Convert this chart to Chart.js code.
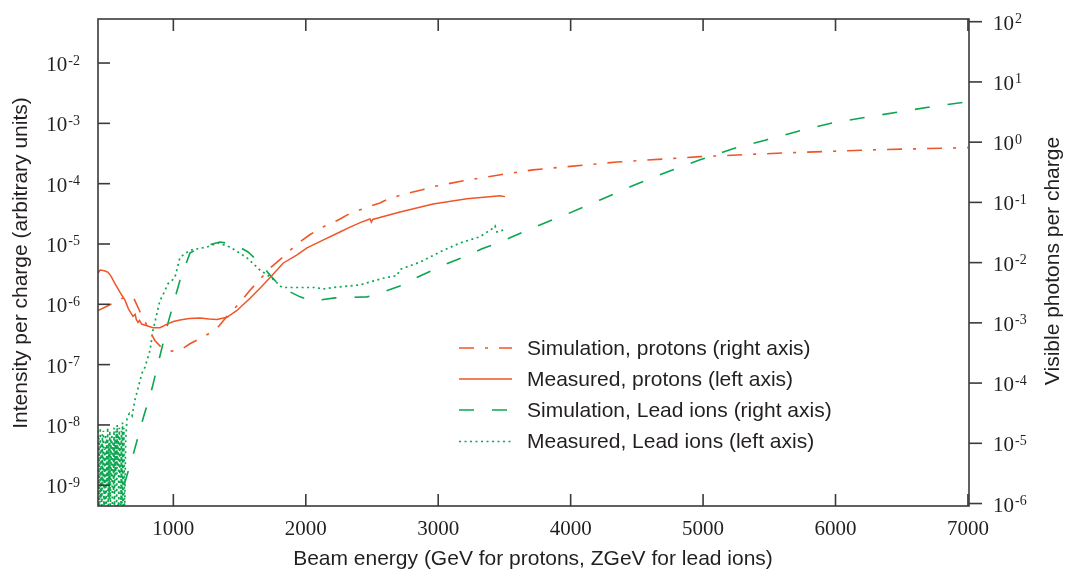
<!DOCTYPE html>
<html lang="en">
<head>
    <meta charset="UTF-8">
    <title>Visible photons vs beam energy</title>
    <script src="https://cdn.jsdelivr.net/npm/chart.js"></script>
    <style>
        html, body { margin: 0; padding: 0; background: #fff; }
        #wrap { position: relative; width: 1066px; height: 572px; }
    </style>
</head>
<body>
    <div id="wrap">
        <canvas id="beamChart"></canvas>
    </div>

    <script>
        // Tick values
        const xTicks = [1000, 2000, 3000, 4000, 5000, 6000, 7000];
        const leftTicks = [1e-9, 1e-8, 1e-7, 1e-6, 1e-5, 1e-4, 1e-3, 1e-2];
        const rightTicks = [1e-6, 1e-5, 1e-4, 1e-3, 1e-2, 1e-1, 1e0, 1e1, 1e2];

        const seriesLabels = [
            'Simulation, protons (right axis)',
            'Measured, protons (left axis)',
            'Simulation, Lead ions (right axis)',
            'Measured, Lead ions (left axis)'
        ];

        // Simulation, protons (right axis)
        const simProtonsE = [431, 560, 635, 700, 750, 800, 860, 915, 990, 1050, 1125, 1225, 1330, 1430, 1490, 1580, 1630, 1730, 1820, 1940, 2030, 2130, 2245, 2335, 2450, 2560, 2635, 2765, 2880, 2960, 3075, 3190, 3470, 3715, 4350, 4980, 5600, 6240, 7000];
        const simProtonsV = [1.6e-3, 2.2e-3, 2.7e-3, 2.6e-3, 1.5e-3, 9.1e-4, 5.1e-4, 3.8e-4, 3.4e-4, 3.5e-4, 4.5e-4, 5.8e-4, 8.1e-4, 1.5e-3, 2.0e-3, 3.5e-3, 4.6e-3, 8.1e-3, 1.2e-2, 2.1e-2, 2.9e-2, 3.9e-2, 5.1e-2, 6.6e-2, 8.1e-2, 9.8e-2, 0.117, 0.141, 0.162, 0.182, 0.204, 0.229, 0.288, 0.347, 0.468, 0.575, 0.661, 0.741, 0.813];

        // Measured, protons (left axis)
        const measProtonsE = [432, 447, 480, 507, 530, 559, 600, 635, 660, 695, 712, 720, 733, 745, 760, 801, 846, 899, 952, 1000, 1050, 1120, 1201, 1270, 1329, 1405, 1480, 1579, 1654, 1745, 1828, 1934, 2009, 2130, 2258, 2334, 2420, 2485, 2495, 2505, 2600, 2712, 2961, 3217, 3467, 3504];
        const measProtonsV = [3.3e-6, 3.7e-6, 3.6e-6, 3.4e-6, 2.9e-6, 2.2e-6, 1.55e-6, 1.17e-6, 8.5e-7, 6.3e-7, 6.8e-7, 5.6e-7, 5.0e-7, 5.4e-7, 4.7e-7, 4.4e-7, 4.1e-7, 4.1e-7, 4.7e-7, 5.2e-7, 5.5e-7, 5.8e-7, 5.9e-7, 5.7e-7, 5.6e-7, 6.1e-7, 7.9e-7, 1.26e-6, 1.85e-6, 3.0e-6, 4.8e-6, 6.6e-6, 8.6e-6, 1.16e-5, 1.58e-5, 1.9e-5, 2.3e-5, 2.6e-5, 2.3e-5, 2.55e-5, 2.9e-5, 3.4e-5, 4.6e-5, 5.6e-5, 6.3e-5, 6.1e-5];

        // Simulation, Lead ions (right axis)
        const simLeadE = [555, 623, 699, 774, 841, 900, 961, 1050, 1126, 1239, 1352, 1465, 1564, 1654, 1730, 1821, 1957, 2055, 2221, 2462, 2575, 2711, 2825, 2961, 3074, 3217, 3331, 3467, 3716, 3973, 4222, 4472, 4728, 4977, 5226, 5483, 5732, 5981, 6238, 6487, 6736, 7000];
        const simLeadV = [6.0e-7, 1.86e-6, 6.8e-6, 2.7e-5, 8.5e-5, 2.9e-4, 1.02e-3, 5.1e-3, 1.45e-2, 1.9e-2, 2.2e-2, 2.0e-2, 1.5e-2, 9.8e-3, 6.2e-3, 3.8e-3, 2.7e-3, 2.3e-3, 2.6e-3, 2.7e-3, 3.2e-3, 4.1e-3, 5.5e-3, 7.5e-3, 9.8e-3, 1.3e-2, 1.7e-2, 2.2e-2, 3.8e-2, 6.4e-2, 0.11, 0.19, 0.32, 0.51, 0.78, 1.1, 1.55, 2.1, 2.6, 3.2, 3.9, 4.7];

        // Measured, Lead ions (left axis) - noisy below ~650
        const measLeadE = [432, 436, 440, 444, 448, 452, 456, 460, 464, 468, 472, 476, 480, 484, 488, 492, 496, 500, 504, 508, 512, 516, 520, 524, 528, 532, 536, 540, 544, 548, 552, 556, 560, 564, 568, 572, 576, 580, 584, 588, 592, 596, 600, 604, 608, 612, 616, 620, 626, 632, 640, 650, 668, 688, 710, 763, 786, 824, 846, 899, 914, 960, 975, 1012, 1050, 1126, 1254, 1337, 1428, 1556, 1654, 1745, 1821, 1979, 2085, 2123, 2206, 2410, 2583, 2689, 2712, 2863, 3014, 3165, 3316, 3414, 3429, 3444, 3490];
        const measLeadV = [8e-9, 4e-10, 6e-9, 3e-10, 9e-9, 6e-10, 5e-9, 3e-10, 7e-9, 1e-9, 8e-9, 3e-10, 4e-9, 5e-10, 7e-9, 2e-10, 6e-9, 1e-9, 9e-9, 3e-10, 5e-9, 6e-10, 8e-9, 2e-10, 6e-9, 1.2e-9, 7e-9, 3e-10, 5e-9, 8e-10, 9e-9, 3e-10, 6e-9, 1.5e-9, 8e-9, 4e-10, 1e-8, 2e-9, 7e-9, 4e-10, 9e-9, 1.5e-9, 6e-9, 3e-10, 8e-9, 5e-10, 1.1e-8, 2e-10, 9e-9, 3e-10, 5.5e-9, 1.3e-8, 1.55e-8, 1.4e-8, 2.6e-8, 7.2e-8, 9.1e-8, 1.74e-7, 3.7e-7, 1.17e-6, 1.32e-6, 2.2e-6, 2.3e-6, 2.8e-6, 6.0e-6, 7.9e-6, 8.9e-6, 1.04e-5, 8.9e-6, 5.9e-6, 3.7e-6, 2.7e-6, 1.9e-6, 1.9e-6, 1.9e-6, 1.78e-6, 1.9e-6, 2.1e-6, 2.7e-6, 3.0e-6, 3.8e-6, 5.0e-6, 7.4e-6, 1.04e-5, 1.32e-5, 1.83e-5, 1.99e-5, 1.58e-5, 1.7e-5];

        const orange = '#ef5527';
        const green = '#0ba650';
        const axisColor = '#3a3a3a';
        const textColor = '#231f20';
        const serif = '"Liberation Serif", "Times New Roman", serif';
        const sans = '"Liberation Sans", Arial, sans-serif';

        const pts = (xs, ys) => xs.map((x, i) => ({ x: x, y: ys[i] }));

        const datasets = [
            { label: seriesLabels[0], data: pts(simProtonsE, simProtonsV), yAxisID: 'yR',
              borderColor: orange, borderWidth: 1.6, borderDash: [15, 11, 3, 11] },
            { label: seriesLabels[1], data: pts(measProtonsE, measProtonsV), yAxisID: 'yL',
              borderColor: orange, borderWidth: 1.5, borderDash: [] },
            { label: seriesLabels[2], data: pts(simLeadE, simLeadV), yAxisID: 'yR',
              borderColor: green, borderWidth: 1.6, borderDash: [15, 18] },
            { label: seriesLabels[3], data: pts(measLeadE, measLeadV), yAxisID: 'yL',
              borderColor: green, borderWidth: 1.7, borderDash: [2, 3.5] }
        ];
        datasets.forEach(d => { d.pointRadius = 0; d.tension = 0; d.fill = false; });

        function line(ctx, x1, y1, x2, y2) {
            ctx.beginPath(); ctx.moveTo(x1, y1); ctx.lineTo(x2, y2); ctx.stroke();
        }

        // draws "10" with a raised exponent; align = 'right' or 'left'
        function powerLabel(ctx, value, x, y, align) {
            const exp = String(Math.round(Math.log10(value)));
            ctx.font = '21px ' + serif;
            const bw = ctx.measureText('10').width;
            ctx.font = '14px ' + serif;
            const ew = ctx.measureText(exp).width;
            const x0 = align === 'right' ? x - bw - ew - 1 : x;
            ctx.textAlign = 'left';
            ctx.textBaseline = 'alphabetic';
            ctx.font = '21px ' + serif;
            ctx.fillText('10', x0, y + 8);
            ctx.font = '14px ' + serif;
            ctx.fillText(exp, x0 + bw + 1, y + 1.5);
        }

        const framePlugin = {
            id: 'frame',
            afterDraw(chart) {
                const { ctx, chartArea: a, scales } = chart;
                ctx.save();
                ctx.strokeStyle = axisColor;
                ctx.fillStyle = textColor;
                ctx.lineWidth = 1.6;
                ctx.setLineDash([]);
                ctx.strokeRect(a.left, a.top, a.right - a.left, a.bottom - a.top);

                // x ticks (inward, bottom and top)
                xTicks.forEach(v => {
                    const px = scales.x.getPixelForValue(v);
                    line(ctx, px, a.bottom, px, a.bottom - 12);
                    line(ctx, px, a.top, px, a.top + 12);
                    ctx.font = '21px ' + serif;
                    ctx.textAlign = 'center';
                    ctx.textBaseline = 'middle';
                    ctx.fillText(String(v), px, a.bottom + 23);
                });

                // left axis ticks (inward)
                leftTicks.forEach(v => {
                    const py = scales.yL.getPixelForValue(v);
                    line(ctx, a.left, py, a.left + 12, py);
                    powerLabel(ctx, v, a.left - 18, py, 'right');
                });

                // right axis ticks (outward)
                rightTicks.forEach(v => {
                    const py = scales.yR.getPixelForValue(v);
                    line(ctx, a.right, py, a.right + 13, py);
                    powerLabel(ctx, v, a.right + 24, py, 'left');
                });

                // axis titles
                ctx.font = '21px ' + sans;
                ctx.textAlign = 'center';
                ctx.textBaseline = 'alphabetic';
                ctx.fillText('Beam energy (GeV for protons, ZGeV for lead ions)', 533, 565);

                ctx.save();
                ctx.translate(27, 263);
                ctx.rotate(-Math.PI / 2);
                ctx.fillText('Intensity per charge (arbitrary units)', 0, 0);
                ctx.restore();

                ctx.save();
                ctx.translate(1059, 261);
                ctx.rotate(-Math.PI / 2);
                ctx.fillText('Visible photons per charge', 0, 0);
                ctx.restore();

                // legend
                const rowY = [348, 379, 410, 441.5];
                chart.data.datasets.forEach((d, i) => {
                    ctx.strokeStyle = d.borderColor;
                    ctx.lineWidth = d.borderWidth;
                    ctx.setLineDash(d.borderDash);
                    line(ctx, 459, rowY[i], 512, rowY[i]);
                    ctx.setLineDash([]);
                    ctx.font = '21px ' + sans;
                    ctx.textAlign = 'left';
                    ctx.textBaseline = 'middle';
                    ctx.fillStyle = textColor;
                    ctx.fillText(d.label, 527, rowY[i] + 1);
                });
                ctx.restore();
            }
        };

        const beamCtx = document.getElementById('beamChart').getContext('2d');
        const beamChart = new Chart(beamCtx, {
            type: 'line',
            data: { datasets: datasets },
            options: {
                responsive: true,
                maintainAspectRatio: false,
                animation: false,
                layout: { padding: { left: 98, top: 19, right: 97, bottom: 66 } },
                plugins: { legend: { display: false }, tooltip: { enabled: false } },
                scales: {
                    x: { type: 'linear', min: 431, max: 7008, display: false },
                    yL: { type: 'logarithmic', position: 'left', min: 4.53e-10, max: 0.0537, display: false },
                    yR: { type: 'logarithmic', position: 'right', min: 9.1e-7, max: 110.9, display: false }
                }
            },
            plugins: [framePlugin]
        });
    </script>
</body>
</html>
